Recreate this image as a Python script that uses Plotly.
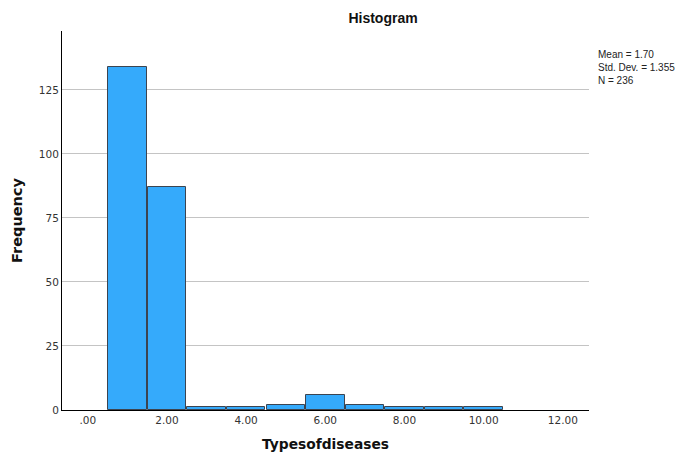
import plotly.graph_objects as go

bin_centers = [1, 2, 3, 4, 5, 6, 7, 8, 9, 10]
frequencies = [134, 87, 1, 1, 2, 6, 2, 1, 1, 1]
x_tick_vals = [0, 2, 4, 6, 8, 10, 12]
x_tick_text = [".00", "2.00", "4.00", "6.00", "8.00", "10.00", "12.00"]
y_tick_vals = [0, 25, 50, 75, 100, 125]
stats_text = "Mean = 1.70<br>Std. Dev. = 1.355<br>N = 236"

# page body has an 8px margin, so the figure is drawn 8px smaller and offset
W, H = 677, 453
L, R, T, B = 54, 96, 23, 51
pw, ph = W - L - R, H - T - B

fig = go.Figure()
fig.add_trace(go.Bar(
    x=bin_centers, y=frequencies, width=0.97,
    marker=dict(color="#35AAFB", line=dict(color="#3c4450", width=1)),
    showlegend=False, hoverinfo="x+y",
))

fig.update_layout(
    width=W, height=H,
    margin=dict(l=L, r=R, t=T, b=B, autoexpand=False),
    paper_bgcolor="white", plot_bgcolor="white",
    font=dict(family="DejaVu Sans, Liberation Sans, Arial", color="#222"),
    title=dict(text="<b>Histogram</b>", x=(383 - 8) / W, xanchor="center",
               y=1 - (18 - 8) / H, yanchor="middle",
               font=dict(size=14, color="#111", family="Liberation Sans, Arial")),
    xaxis=dict(range=[-0.65, 12.66], tickvals=x_tick_vals, ticktext=x_tick_text,
               showgrid=False, zeroline=False, showline=True, linecolor="black",
               linewidth=1, ticks="", tickfont=dict(size=10.5, color="#333"),
               automargin=False,
               title=dict(text="<b>Typesofdiseases</b>", font=dict(size=13.8, color="#111"),
                          standoff=14)),
    yaxis=dict(range=[0, 148], tickvals=y_tick_vals, showgrid=True,
               gridcolor="#c4c4c4", gridwidth=1, zeroline=False, showline=True,
               linecolor="black", linewidth=1, ticks="",
               tickfont=dict(size=10.5, color="#333"),
               automargin=False,
               title=dict(text="<b>Frequency</b>", font=dict(size=14.5, color="#111"),
                          standoff=12)),
    bargap=0,
)

fig.add_annotation(
    text=stats_text, xref="paper", yref="paper",
    x=(596 - 8 - L) / pw, y=1 - (47 - 8 - T) / ph,
    xanchor="left", yanchor="top", align="left", showarrow=False,
    font=dict(size=10, color="#222", family="Liberation Sans, Arial"),
)

fig.write_html("out.html")
